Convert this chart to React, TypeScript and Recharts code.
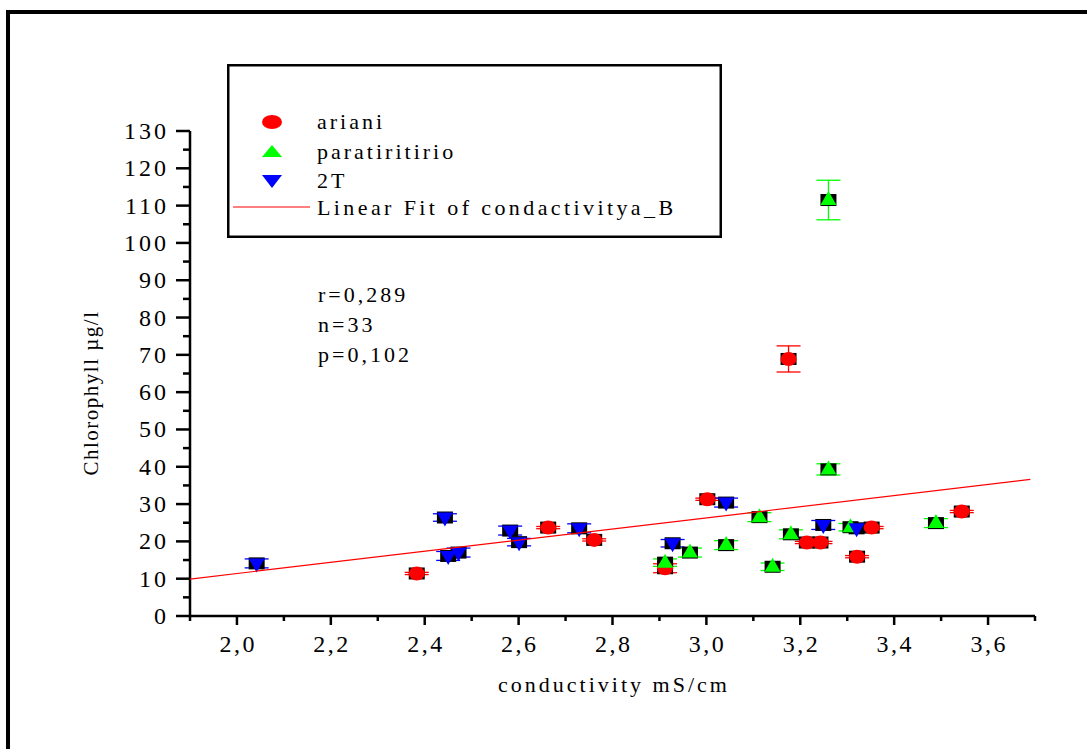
import React from "react";
import { ScatterChart, Scatter, XAxis, YAxis, ErrorBar, Legend } from "recharts";

// series
const seriesNames = ["ariani", "paratiritirio", "2T"];
const fitName = "Linear Fit of condactivitya_B";

const arianiX = [2.383, 2.663, 2.761, 2.912, 3.002, 3.175, 3.214, 3.243, 3.321, 3.352, 3.544];
const arianiY = [11.4, 23.7, 20.4, 12.8, 31.3, 68.9, 19.7, 19.7, 15.9, 23.7, 28.0];
const arianiErr = [0.3, 0.3, 0.3, 1.2, 0.3, 3.5, 0.3, 0.3, 0.3, 0.3, 0.3];

const paraX = [2.912, 2.965, 3.042, 3.113, 3.141, 3.18, 3.26, 3.26, 3.307, 3.489];
const paraY = [14.3, 17.0, 19.0, 26.5, 13.2, 21.9, 39.3, 111.5, 23.8, 24.9];
const paraErr = [1.0, 1.2, 1.2, 1.2, 1.0, 1.2, 1.5, 5.3, 1.0, 1.2];

const tX = [2.042, 2.443, 2.45, 2.472, 2.582, 2.601, 2.729, 2.928, 3.042, 3.249, 3.32];
const tY = [14.1, 26.4, 16.1, 17.0, 22.9, 19.8, 23.5, 19.5, 30.4, 24.4, 23.5];
const tErr = [1.2, 1.0, 1.2, 1.2, 1.2, 1.0, 1.2, 1.0, 1.2, 1.2, 1.0];

const fitX = [1.9, 3.69];
const fitY = [9.9, 36.6];

const xTicks = [1.9, 2.0, 2.1, 2.2, 2.3, 2.4, 2.5, 2.6, 2.7, 2.8, 2.9, 3.0, 3.1, 3.2, 3.3, 3.4, 3.5, 3.6, 3.7];
const yTicks = [0, 5, 10, 15, 20, 25, 30, 35, 40, 45, 50, 55, 60, 65, 70, 75, 80, 85, 90, 95, 100, 105, 110, 115, 120, 125, 130];

const statsLines = ["r=0,289", "n=33", "p=0,102"];

const RED = "#ff0000";
const GREEN = "#00ff00";
const BLUE = "#0000ff";
const FONT = '"Liberation Serif", "Times New Roman", serif';

const txt = (size: number, spacing: number) => ({
  fontFamily: FONT,
  fontSize: size,
  letterSpacing: spacing,
  fill: "#000",
});

const toPoints = (xs: number[], ys: number[], errs?: number[]) =>
  xs.map((x, i) => ({ x, y: ys[i], err: errs ? errs[i] : 0 }));

const arianiData = toPoints(arianiX, arianiY, arianiErr);
const paraData = toPoints(paraX, paraY, paraErr);
const tData = toPoints(tX, tY, tErr);
const allData = [...arianiData, ...paraData, ...tData];
const fitData = toPoints(fitX, fitY);

const squareShape = (p: any) => (
  <rect x={p.cx - 8} y={p.cy - 6} width={16} height={12} fill="#000" />
);
const circleShape = (p: any) => <ellipse cx={p.cx} cy={p.cy} rx={8} ry={7} fill={RED} />;
const upShape = (p: any) => (
  <polygon
    points={`${p.cx},${p.cy - 9} ${p.cx - 8},${p.cy + 5} ${p.cx + 8},${p.cy + 5}`}
    fill={GREEN}
  />
);
const downShape = (p: any) => (
  <polygon
    points={`${p.cx},${p.cy + 9} ${p.cx - 8},${p.cy - 5} ${p.cx + 8},${p.cy - 5}`}
    fill={BLUE}
  />
);

const fmt = (v: number) => v.toFixed(1).replace(".", ",");

function XTick(props: any) {
  const { x, y, payload } = props;
  const v = payload.value;
  const major = Math.round(v * 10) % 2 === 0;
  return (
    <g>
      <line x1={x} x2={x} y1={y} y2={y + (major ? 9 : 5)} stroke="#000" strokeWidth={2.5} />
      {major && (
        <text x={x + 1.2} y={y + 36} textAnchor="middle" style={txt(24, 2.5)}>
          {fmt(v)}
        </text>
      )}
    </g>
  );
}

function YTick(props: any) {
  const { x, y, payload } = props;
  const v = payload.value;
  const major = v % 10 === 0;
  return (
    <g>
      <line x1={x} x2={x - (major ? 14 : 7)} y1={y} y2={y} stroke="#000" strokeWidth={2.5} />
      {major && (
        <text x={x - 21} y={y + 8} textAnchor="end" style={txt(24, 3)}>
          {v}
        </text>
      )}
    </g>
  );
}

const legendMarkers = [
  <ellipse key="c" cx={45} cy={58} rx={10} ry={7} fill={RED} />,
  <polygon key="u" points="45,81 35,93 55,93" fill={GREEN} />,
  <polygon key="d" points="45,124 35,111 55,111" fill={BLUE} />,
];

const legendContent = () => (
  <svg width={495} height={174} style={{ display: "block" }}>
    <rect x={1.25} y={1.25} width={492.5} height={171.5} fill="#fff" stroke="#000" strokeWidth={2.5} />
    {legendMarkers}
    {seriesNames.map((name, i) => (
      <text key={name} x={90} y={65 + i * 29.5} style={txt(22, 3)}>
        {name}
      </text>
    ))}
    <line x1={6} x2={83} y1={143} y2={143} stroke={RED} strokeWidth={1.2} />
    <text x={90} y={151} style={txt(22, 3.4)}>
      {fitName}
    </text>
  </svg>
);

export default function App() {
  return (
    <div style={{ position: "absolute", left: 0, top: 0, width: 1087, height: 749, background: "#fff" }}>
      <svg width={1087} height={749} style={{ position: "absolute", left: 0, top: 0 }}>
        <rect x={8} y={12} width={2000} height={2000} fill="none" stroke="#000" strokeWidth={4} />
        {statsLines.map((s, i) => (
          <text key={s} x={318} y={302 + i * 30} style={txt(22, 3)}>
            {s}
          </text>
        ))}
      </svg>
      <div style={{ position: "absolute", left: 0, top: 0 }}>
        <ScatterChart width={1087} height={749}
          margin={{ top: 131, right: 52, bottom: 73, left: 90 }}>
          <XAxis type="number" dataKey="x" domain={[1.9, 3.7]} ticks={xTicks} interval={0}
            allowDataOverflow height={60} tickSize={0} tickMargin={0} tickLine={false}
            axisLine={{ stroke: "#000", strokeWidth: 2.5 }} tick={<XTick />}
            label={{
              content: (p: any) => (
                <text x={614} y={p.viewBox.y + 76} textAnchor="middle" style={txt(22, 3)}>
                  conductivity mS/cm
                </text>
              ),
            }} />
          <YAxis type="number" dataKey="y" domain={[0, 130]} ticks={yTicks} interval={0}
            allowDataOverflow width={100} tickSize={0} tickMargin={0} tickLine={false}
            axisLine={{ stroke: "#000", strokeWidth: 2.5 }} tick={<YTick />}
            label={{
              content: () => (
                <text x={98} y={393} textAnchor="middle" style={txt(21, 1.5)}
                  transform="rotate(-90, 98, 393)">
                  Chlorophyll µg/l
                </text>
              ),
            }} />
          <Legend layout="horizontal" verticalAlign="middle" align="center"
            wrapperStyle={{ position: "absolute", left: 227, top: 64, width: 495, height: 174 }}
            content={legendContent} />
          <Scatter name="squares" data={allData} shape={squareShape} legendType="none"
            isAnimationActive={false} />
          <Scatter name={seriesNames[0]} data={arianiData} shape={circleShape} isAnimationActive={false}>
            <ErrorBar dataKey="err" direction="y" width={12} stroke={RED} strokeWidth={1.3} />
          </Scatter>
          <Scatter name={seriesNames[1]} data={paraData} shape={upShape} isAnimationActive={false}>
            <ErrorBar dataKey="err" direction="y" width={12} stroke={GREEN} strokeWidth={1.3} />
          </Scatter>
          <Scatter name={seriesNames[2]} data={tData} shape={downShape} isAnimationActive={false}>
            <ErrorBar dataKey="err" direction="y" width={12} stroke={BLUE} strokeWidth={1.3} />
          </Scatter>
          <Scatter name={fitName} data={fitData} line={{ stroke: RED, strokeWidth: 1.2 }}
            shape={() => <g />} legendType="none" isAnimationActive={false} />
        </ScatterChart>
      </div>
    </div>
  );
}
